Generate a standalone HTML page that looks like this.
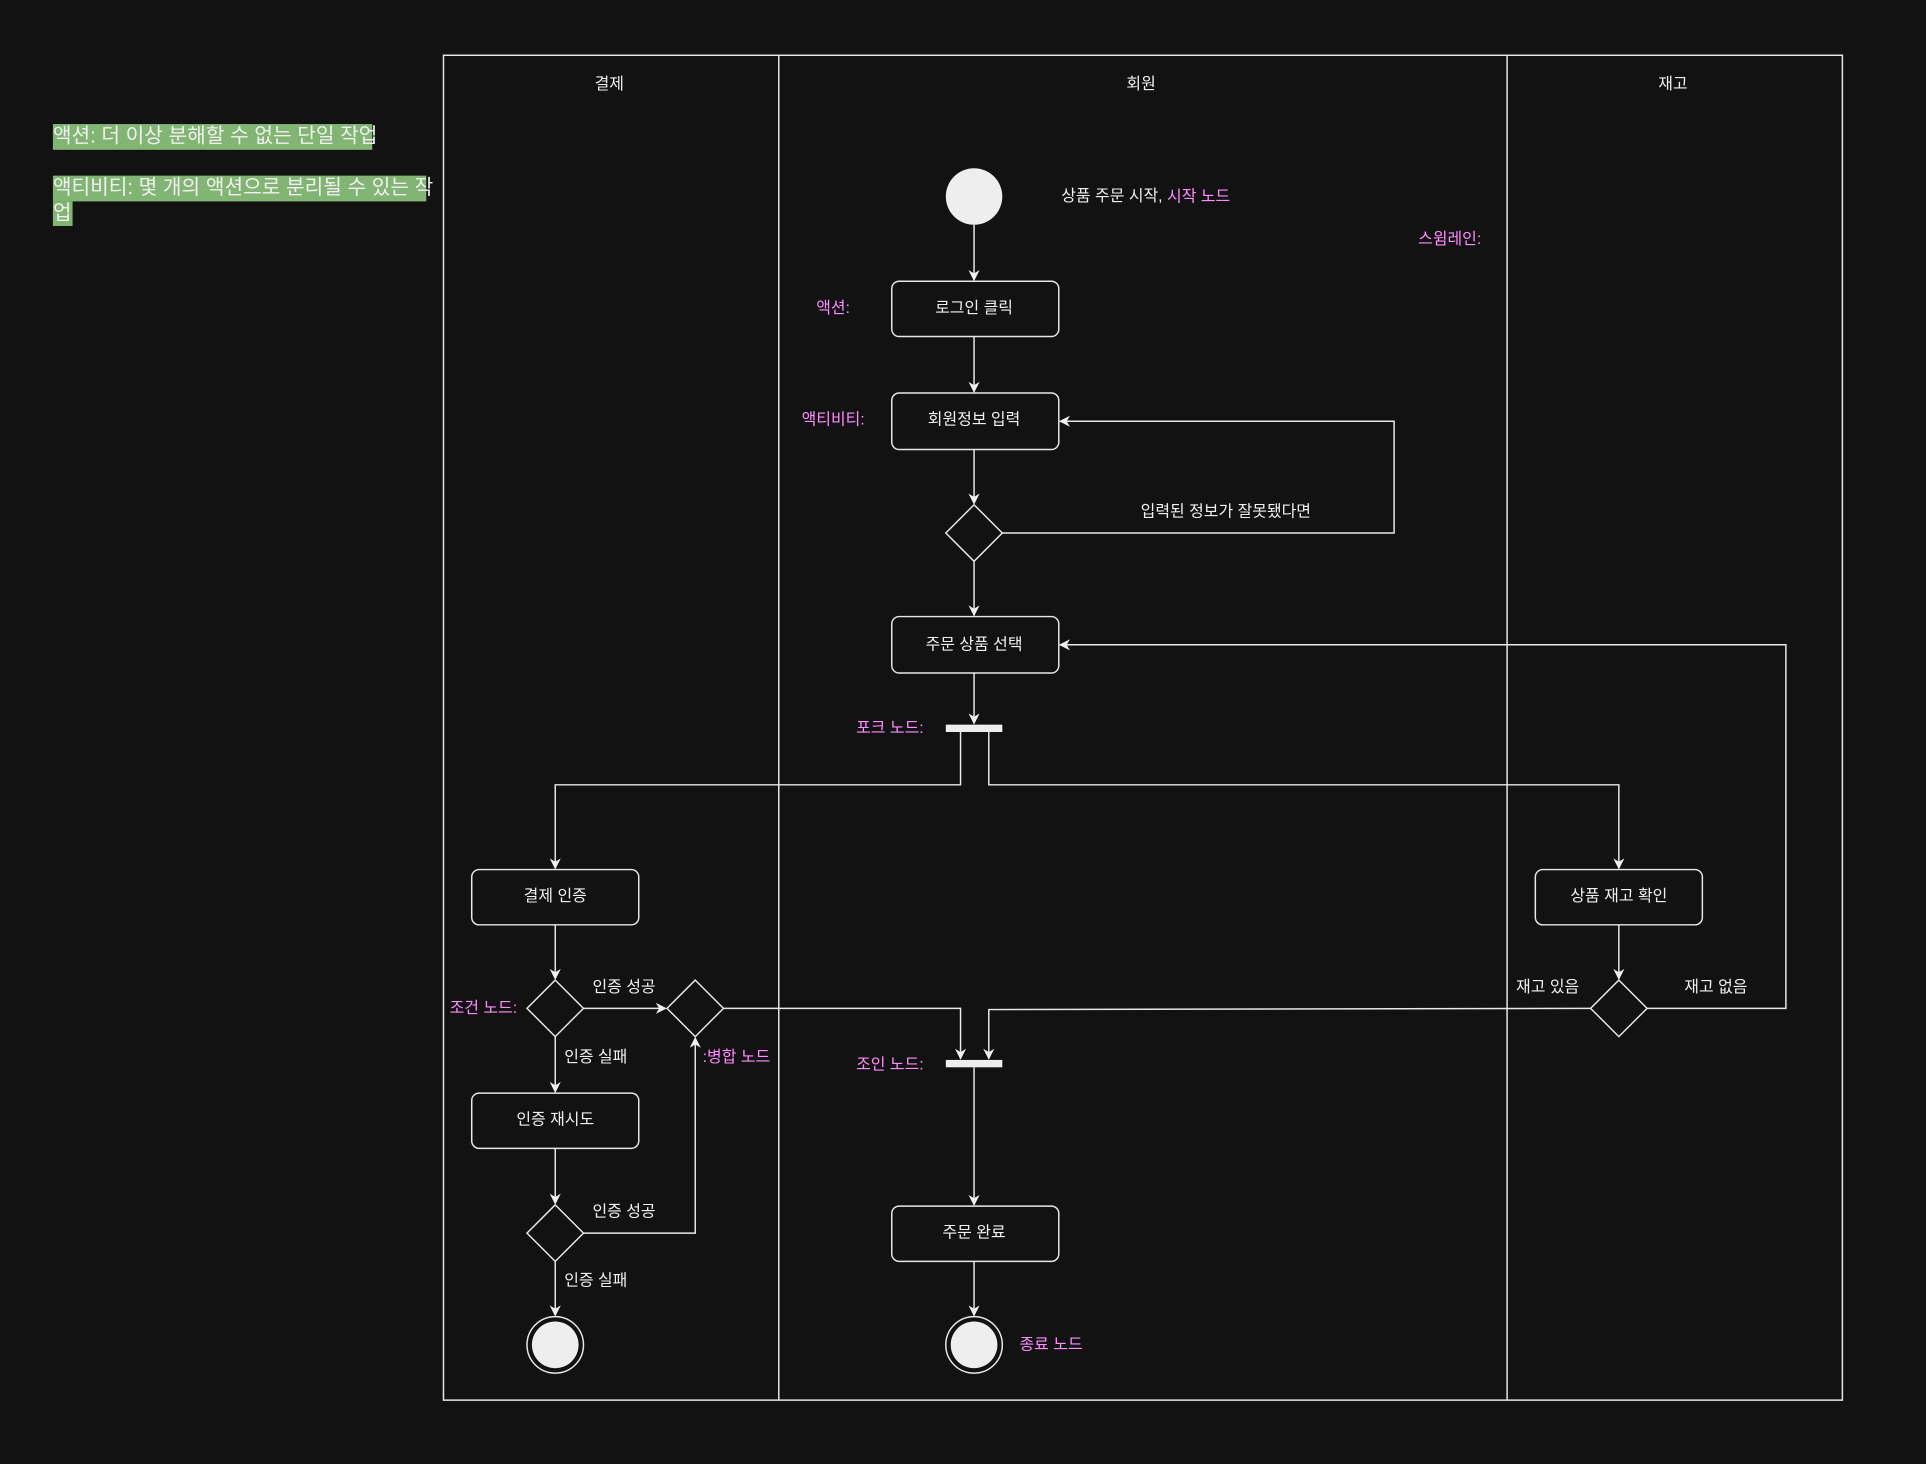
<!DOCTYPE html>
<html><head><meta charset="utf-8"><style>
html,body{margin:0;padding:0;background:#121212;}
svg{display:block}
text{font-family:"Liberation Sans","Noto Sans CJK KR",sans-serif;font-size:13px;fill:#f0f0f0;dominant-baseline:central}
.p{fill:#ff8cff}
.n{font-size:16.5px}
</style></head><body>
<svg width="1926" height="1464" viewBox="0 0 1568 1192" xmlns="http://www.w3.org/2000/svg">
<defs><marker id="a" viewBox="0 0 10 10" refX="9" refY="5" markerWidth="9" markerHeight="9" orient="auto" markerUnits="userSpaceOnUse"><path d="M0,0 L10,5 L0,10 L3,5 z" fill="#f0f0f0"/></marker></defs>
<rect width="1568" height="1192" fill="#121212"/>
<g fill="none" stroke="#e8e8e8" stroke-width="1.2">
<rect x="361" y="45" width="1139" height="1095"/>
<line x1="634" y1="45" x2="634" y2="1140"/>
<line x1="1227" y1="45" x2="1227" y2="1140"/>
<rect x="726" y="229" width="136" height="45" rx="6"/>
<rect x="726" y="320" width="136" height="46" rx="6"/>
<rect x="726" y="502" width="136" height="46" rx="6"/>
<rect x="384" y="708" width="136" height="45" rx="6"/>
<rect x="1250" y="708" width="136" height="45" rx="6"/>
<rect x="384" y="890" width="136" height="45" rx="6"/>
<rect x="726" y="982" width="136" height="45" rx="6"/>
<path d="M793,411 L816,434 L793,457 L770,434 Z"/>
<path d="M452,798 L475,821 L452,844 L429,821 Z"/>
<path d="M566,798 L589,821 L566,844 L543,821 Z"/>
<path d="M452,981 L475,1004 L452,1027 L429,1004 Z"/>
<path d="M1318,798 L1341,821 L1318,844 L1295,821 Z"/>
<circle cx="452" cy="1095" r="23"/>
<circle cx="793" cy="1095" r="23"/>
</g>
<g fill="#eeeeee">
<circle cx="793" cy="160" r="23"/>
<circle cx="452" cy="1095" r="19"/>
<circle cx="793" cy="1095" r="19"/>
<rect x="770" y="590" width="46" height="6"/>
<rect x="770" y="863" width="46" height="6"/>
</g>
<g fill="none" stroke="#e8e8e8" stroke-width="1.2" marker-end="url(#a)">
<path d="M793,183 V228"/>
<path d="M793,274 V319"/>
<path d="M793,366 V410"/>
<path d="M816,434 H1135 V343 H863"/>
<path d="M793,457 V501"/>
<path d="M793,548 V589"/>
<path d="M782,596 V639 H452 V707"/>
<path d="M805,596 V639 H1318 V707"/>
<path d="M452,753 V797"/>
<path d="M475,821 H542"/>
<path d="M589,821 H782 V862"/>
<path d="M452,844 V889"/>
<path d="M452,935 V980"/>
<path d="M475,1004 H566 V845"/>
<path d="M452,1027 V1071"/>
<path d="M1318,753 V797"/>
<path d="M1295,821 L805,822 V862"/>
<path d="M1341,821 H1454 V525 H863"/>
<path d="M793,869 V981"/>
<path d="M793,1027 V1071"/>
</g>
<text x="496" y="69" text-anchor="middle">결제</text>
<text x="929" y="69" text-anchor="middle">회원</text>
<text x="1362" y="69" text-anchor="middle">재고</text>
<text x="864" y="160">상품 주문 시작, <tspan class="p">시작 노드</tspan></text>
<text x="1206" y="195" text-anchor="end" class="p">스윔레인:</text>
<text x="692" y="251" text-anchor="end" class="p">액션:</text>
<text x="704" y="342" text-anchor="end" class="p">액티비티:</text>
<text x="752" y="593" text-anchor="end" class="p">포크 노드:</text>
<text x="752" y="867" text-anchor="end" class="p">조인 노드:</text>
<text x="421" y="821" text-anchor="end" class="p">조건 노드:</text>
<text x="572" y="861" class="p">:병합 노드</text>
<text x="830" y="1095" class="p">종료  노드</text>
<text x="793" y="251" text-anchor="middle">로그인 클릭</text>
<text x="793" y="342" text-anchor="middle">회원정보 입력</text>
<text x="793" y="525" text-anchor="middle">주문 상품 선택</text>
<text x="452" y="730" text-anchor="middle">결제 인증</text>
<text x="1318" y="730" text-anchor="middle">상품 재고 확인</text>
<text x="452" y="912" text-anchor="middle">인증 재시도</text>
<text x="793" y="1004" text-anchor="middle">주문 완료</text>
<text x="998" y="417" text-anchor="middle">입력된 정보가 잘못됐다면</text>
<text x="508" y="804" text-anchor="middle">인증 성공</text>
<text x="485" y="861" text-anchor="middle">인증 실패</text>
<text x="508" y="987" text-anchor="middle">인증 성공</text>
<text x="485" y="1043" text-anchor="middle">인증 실패</text>
<text x="1260" y="804" text-anchor="middle">재고 있음</text>
<text x="1397" y="804" text-anchor="middle">재고 없음</text>
<g fill="#82b574">
<rect x="43" y="101" width="260" height="21"/>
<rect x="43" y="143" width="304" height="21"/>
<rect x="43" y="164" width="16" height="20"/>
</g>
<text x="43" y="111" class="n">액션: 더 이상 분해할 수 없는 단일 작업</text>
<text x="43" y="153" class="n">액티비티: 몇 개의 액션으로 분리될 수 있는 작</text>
<text x="43" y="174" class="n">업</text>
</svg>
</body></html>
